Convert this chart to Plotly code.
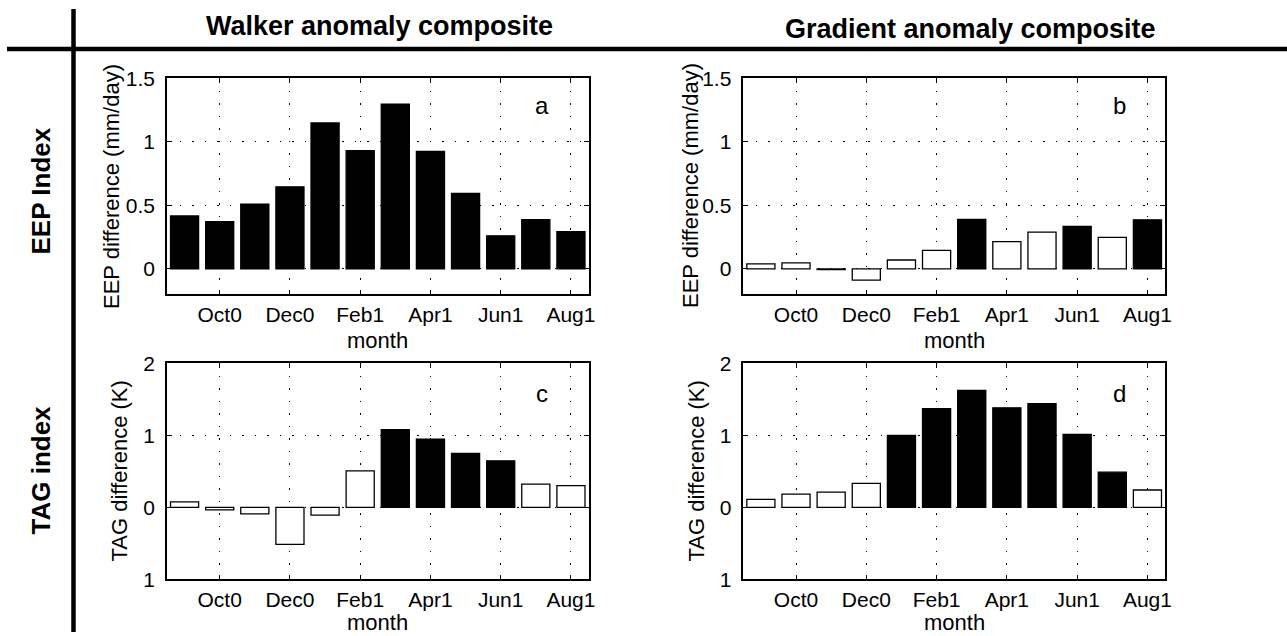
import plotly.graph_objects as go

# ---------------- data ----------------
months = ["Sep0", "Oct0", "Nov0", "Dec0", "Jan1", "Feb1",
          "Mar1", "Apr1", "May1", "Jun1", "Jul1", "Aug1"]
tick_months = ["Oct0", "Dec0", "Feb1", "Apr1", "Jun1", "Aug1"]

walker_eep = [0.417, 0.372, 0.51, 0.646, 1.148, 0.93, 1.297, 0.924, 0.594, 0.26, 0.388, 0.294]
walker_eep_sig = [1, 1, 1, 1, 1, 1, 1, 1, 1, 1, 1, 1]

grad_eep = [0.039, 0.047, -0.006, -0.089, 0.07, 0.146, 0.39, 0.214, 0.29, 0.334, 0.248, 0.386]
grad_eep_sig = [0, 0, 1, 0, 0, 0, 1, 0, 0, 1, 0, 1]

walker_tag = [0.074, -0.037, -0.092, -0.516, -0.11, 0.507, 1.078, 0.945, 0.747, 0.645, 0.323, 0.30]
walker_tag_sig = [0, 0, 0, 0, 0, 0, 1, 1, 1, 1, 0, 0]

grad_tag = [0.11, 0.184, 0.212, 0.332, 1.0, 1.369, 1.622, 1.382, 1.438, 1.014, 0.488, 0.24]
grad_tag_sig = [0, 0, 0, 0, 1, 1, 1, 1, 1, 1, 1, 0]

eep_ticks = [0, 0.5, 1, 1.5]
eep_ticktext = ["0", "0.5", "1", "1.5"]
tag_ticks = [-1, 0, 1, 2]
tag_ticktext = ["1", "0", "1", "2"]

col_titles = ["Walker anomaly composite", "Gradient anomaly composite"]
row_titles = ["EEP Index", "TAG index"]
eep_ytitle = "EEP difference (mm/day)"
tag_ytitle = "TAG difference (K)"
xtitle = "month"
panel_letters = ["a", "b", "c", "d"]

# ---------------- layout helpers ----------------
W, H = 1287, 636
FONT = "Liberation Sans, Arial, Helvetica, sans-serif"


def px_x(x):
    return x / W


def px_y(y):
    return 1 - y / H


panels = [
    # (values, sig, xdomain px, ydomain px (top,bottom), yticks, ytext, yrange)
    (walker_eep, walker_eep_sig, (167, 588.5), (78.3, 294.3), eep_ticks, eep_ticktext, [-0.2, 1.5]),
    (grad_eep, grad_eep_sig, (743.3, 1165), (78.3, 294.3), eep_ticks, eep_ticktext, [-0.2, 1.5]),
    (walker_tag, walker_tag_sig, (167, 588.5), (363.3, 579.3), tag_ticks, tag_ticktext, [-1, 2]),
    (grad_tag, grad_tag_sig, (743.3, 1165), (363.3, 579.3), tag_ticks, tag_ticktext, [-1, 2]),
]

fig = go.Figure()
layout = dict(
    width=W, height=H, autosize=False,
    margin=dict(l=0, r=0, t=0, b=0, pad=0, autoexpand=False),
    paper_bgcolor="white", plot_bgcolor="white",
    showlegend=False,
    font=dict(family=FONT, size=21, color="black"),
    bargap=0.2,
)

grid_dash = "1.5px,11px"
for i, (vals, sig, xd, yd, yt, ytt, yr) in enumerate(panels):
    n = "" if i == 0 else str(i + 1)
    fig.add_trace(go.Bar(
        x=months, y=vals,
        width=0.8,
        marker=dict(color=["black" if s else "white" for s in sig],
                    line=dict(color="black", width=1.3)),
        xaxis="x" + n, yaxis="y" + n,
        hoverinfo="x+y",
    ))
    layout["xaxis" + n] = dict(
        domain=[px_x(xd[0]), px_x(xd[1])],
        anchor="y" + n,
        type="category",
        categoryorder="array", categoryarray=months,
        range=[-0.5, 11.5],
        tickmode="array", tickvals=tick_months, ticktext=tick_months,
        ticks="inside", ticklen=5, tickwidth=1, tickcolor="black",
        showline=True, linecolor="black", linewidth=1.5, mirror="allticks",
        showgrid=True, gridcolor="black", gridwidth=1, griddash=grid_dash,
        zeroline=False, automargin=False,
        tickfont=dict(size=21, family=FONT),
        ticklabelstandoff=1,
        fixedrange=True,
    )
    layout["yaxis" + n] = dict(
        domain=[px_y(yd[1]), px_y(yd[0])],
        anchor="x" + n,
        range=yr,
        tickmode="array", tickvals=yt, ticktext=ytt,
        ticks="inside", ticklen=5, tickwidth=1, tickcolor="black",
        showline=True, linecolor="black", linewidth=1.5, mirror="allticks",
        showgrid=True, gridcolor="black", gridwidth=1, griddash=grid_dash,
        zeroline=False, automargin=False,
        tickfont=dict(size=21, family=FONT),
        ticklabelstandoff=6,
        fixedrange=True,
    )

annotations = []


def add_text(text, x, y, size, bold=False, angle=0, xa="center", ya="middle"):
    annotations.append(dict(
        text=f"<b>{text}</b>" if bold else text,
        x=px_x(x), y=px_y(y), xref="paper", yref="paper",
        xanchor=xa, yanchor=ya, showarrow=False, textangle=angle,
        font=dict(family=FONT, size=size, color="black"),
    ))


# column headers
add_text(col_titles[0], 380, 25.5, 27, bold=True)
add_text(col_titles[1], 970, 29, 27, bold=True)
# row labels
add_text(row_titles[0], 40.5, 191, 26, bold=True, angle=-90)
add_text(row_titles[1], 40.5, 470, 26, bold=True, angle=-90)
# y titles
add_text(eep_ytitle, 111, 186, 22, angle=-90)
add_text(eep_ytitle, 690, 186, 22, angle=-90)
add_text(tag_ytitle, 118.5, 471, 22, angle=-90)
add_text(tag_ytitle, 695.5, 471, 22, angle=-90)
# x titles
add_text(xtitle, 377.7, 340, 22)
add_text(xtitle, 954, 340, 22)
add_text(xtitle, 377.7, 622, 22)
add_text(xtitle, 954, 622, 22)
# panel letters
add_text(panel_letters[0], 541.7, 105, 24)
add_text(panel_letters[1], 1119.5, 105, 24)
add_text(panel_letters[2], 541.7, 393.4, 24)
add_text(panel_letters[3], 1119.5, 393.4, 24)

layout["annotations"] = annotations
layout["shapes"] = [
    dict(type="line", xref="paper", yref="paper",
         x0=px_x(73.5), x1=px_x(73.5), y0=px_y(9), y1=px_y(632),
         line=dict(color="black", width=4.5)),
    dict(type="line", xref="paper", yref="paper",
         x0=px_x(7), x1=px_x(1287), y0=px_y(49), y1=px_y(49),
         line=dict(color="black", width=4.5)),
]

fig.update_layout(**layout)
fig.write_html("out.html")
